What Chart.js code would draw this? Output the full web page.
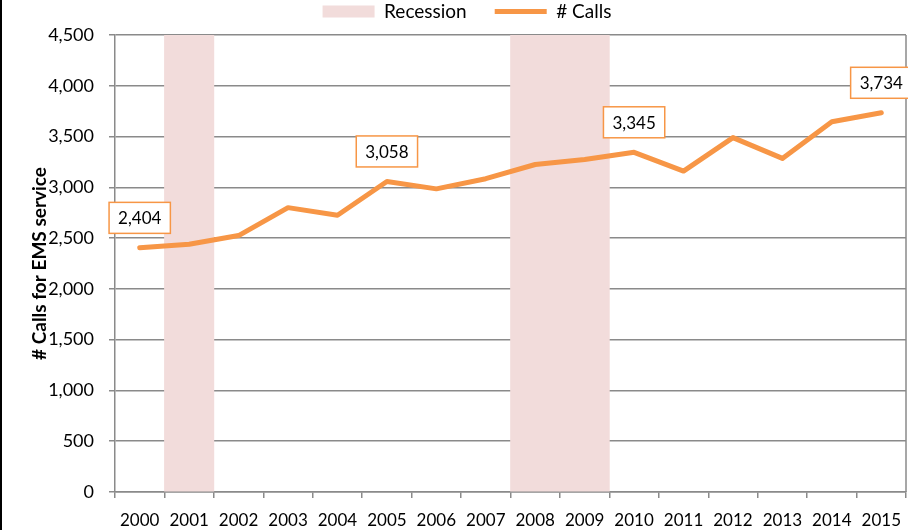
<!DOCTYPE html>
<html>
<head>
<meta charset="utf-8">
<title>EMS calls</title>
<script src="https://cdn.jsdelivr.net/npm/chart.js@4.4.0/dist/chart.umd.min.js"></script>
<style>
    html, body { margin: 0; padding: 0; background: #fff; }
    #wrap { position: relative; width: 908px; height: 530px; }
    #edge { position: absolute; left: 0; top: 0; width: 2px; height: 530px; background: #000; }
</style>
</head>
<body>
<div id="wrap">
    <canvas id="callsChart" width="908" height="530"></canvas>
    <div id="edge"></div>
</div>
<script>
// Data
const years = ['2000', '2001', '2002', '2003', '2004', '2005', '2006', '2007',
               '2008', '2009', '2010', '2011', '2012', '2013', '2014', '2015'];
const calls = [2404, 2440, 2525, 2800, 2725, 3058, 2985, 3085,
               3225, 3275, 3345, 3160, 3490, 3285, 3645, 3734];
const recession = [null, 4500, null, null, null, null, null, null,
                   4500, 4500, null, null, null, null, null, null];
const labeledYears = ['2000', '2005', '2010', '2015'];
const yTicks = [0, 500, 1000, 1500, 2000, 2500, 3000, 3500, 4000, 4500];

const ORANGE = '#f79646';
const PINK = '#f2dcdb';
const GRID = '#8a8a8a';
const FONT = 'Lato';

// Boxed value labels above selected points
const valueLabels = {
    id: 'valueLabels',
    afterDatasetsDraw(chart) {
        const meta = chart.getDatasetMeta(1);
        const ctx = chart.ctx;
        ctx.save();
        ctx.font = '17px ' + FONT;
        ctx.textAlign = 'center';
        ctx.textBaseline = 'middle';
        labeledYears.forEach(year => {
            const i = years.indexOf(year);
            const pt = meta.data[i];
            const text = calls[i].toLocaleString('en-US');
            const w = ctx.measureText(text).width + 18;
            const h = 31;
            const cx = pt.x, cy = pt.y - 30;
            ctx.fillStyle = '#fff';
            ctx.fillRect(cx - w / 2, cy - h / 2, w, h);
            ctx.strokeStyle = ORANGE;
            ctx.lineWidth = 1.5;
            ctx.strokeRect(cx - w / 2, cy - h / 2, w, h);
            ctx.fillStyle = '#000';
            ctx.fillText(text, cx, cy + 1);
        });
        ctx.restore();
    }
};

// Right-hand edge of the plot area
const plotEdge = {
    id: 'plotEdge',
    beforeDatasetsDraw(chart) {
        const a = chart.chartArea;
        const ctx = chart.ctx;
        ctx.save();
        ctx.strokeStyle = GRID;
        ctx.lineWidth = 1.5;
        ctx.beginPath();
        ctx.moveTo(a.right, a.top);
        ctx.lineTo(a.right, a.bottom);
        ctx.stroke();
        ctx.restore();
    }
};

new Chart(document.getElementById('callsChart'), {
    data: {
        labels: years,
        datasets: [{
            type: 'bar',
            label: 'Recession',
            data: recession,
            backgroundColor: PINK,
            barPercentage: 1,
            categoryPercentage: 1,
            pointStyle: 'rect',
            order: 1
        }, {
            type: 'line',
            label: '# Calls',
            data: calls,
            borderColor: ORANGE,
            backgroundColor: ORANGE,
            borderWidth: 5,
            borderCapStyle: 'round',
            borderJoinStyle: 'round',
            pointRadius: 0,
            pointStyle: 'line',
            tension: 0,
            order: 0
        }]
    },
    options: {
        responsive: false,
        animation: false,
        layout: { padding: { top: -32, right: 0, left: 26, bottom: 0 } },
        plugins: {
            tooltip: { enabled: false },
            // thin spacer between legend and plot
            title: {
                display: true,
                text: ' ',
                position: 'top',
                weight: 500,
                padding: 0,
                font: { size: 4, lineHeight: 1 }
            },
            legend: {
                display: true,
                position: 'top',
                labels: {
                    usePointStyle: true,
                    pointStyleWidth: 52,
                    boxHeight: 12,
                    padding: 28,
                    color: '#000',
                    font: { family: FONT, size: 19 },
                    sort: (a, b) => a.datasetIndex - b.datasetIndex
                }
            }
        },
        scales: {
            x: {
                offset: true,
                grid: {
                    display: true,
                    offset: true,
                    drawOnChartArea: false,
                    drawTicks: true,
                    tickLength: 6,
                    color: GRID,
                    lineWidth: 1.5
                },
                border: { display: true, color: GRID, width: 1.5 },
                ticks: {
                    color: '#000',
                    padding: 12,
                    maxRotation: 0,
                    autoSkip: false,
                    font: { family: FONT, size: 17 }
                },
                afterFit(scale) {
                    scale.height = 38;
                    scale.paddingLeft = 0;
                    scale.paddingRight = 2;
                }
            },
            y: {
                min: 0,
                max: 4500,
                afterBuildTicks(scale) { scale.ticks = yTicks.map(v => ({ value: v })); },
                grid: {
                    color: GRID,
                    lineWidth: 1.5,
                    drawTicks: true,
                    tickLength: 6
                },
                border: { display: true, color: GRID, width: 1.5 },
                ticks: {
                    color: '#000',
                    padding: 15,
                    font: { family: FONT, size: 18 },
                    callback: v => v.toLocaleString('en-US')
                },
                title: {
                    display: true,
                    text: '# Calls for EMS service',
                    color: '#000',
                    padding: { top: 2, bottom: 0 },
                    font: { family: FONT, size: 19, weight: 'bold' }
                },
                afterFit(scale) {
                    scale.width = 89;
                    scale.paddingTop = 35;
                }
            }
        }
    },
    plugins: [valueLabels, plotEdge]
});
</script>
</body>
</html>
